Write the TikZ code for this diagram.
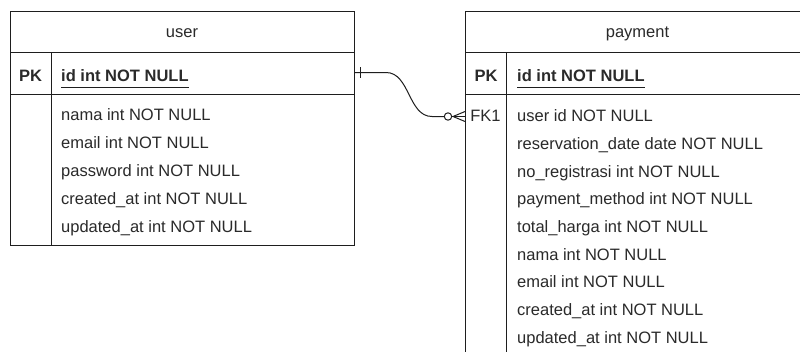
\documentclass[tikz,border=0pt]{standalone}
\usepackage{fontspec}
\setmainfont{Liberation Sans}
\definecolor{ln}{HTML}{1E1E1E}
\definecolor{tx}{HTML}{2A2A2A}
\begin{document}
\begin{tikzpicture}[x=1pt,y=-1pt,
  tbl/.style={draw=ln,line width=1pt},
  txt/.style={inner sep=0pt,anchor=base west,text=tx,font=\fontsize{16.5pt}{19pt}\selectfont},
  btxt/.style={txt,font=\fontsize{16.5pt}{19pt}\selectfont\bfseries},
  ctxt/.style={inner sep=0pt,anchor=base,text=tx,font=\fontsize{16.5pt}{19pt}\selectfont},
  bctxt/.style={ctxt,font=\fontsize{16.5pt}{19pt}\selectfont\bfseries},
  uline/.style={draw=ln,line width=0.8pt},
  rel/.style={draw=ln,line width=1pt}]
\useasboundingbox (0,0) rectangle (800,351);
\fill[white] (0,0) rectangle (800,351);
\begin{scope}
\clip (0,0) rectangle (800,351);
% user table
\draw[tbl] (10,11) rectangle (354,245);
\draw[tbl] (10,52.5) -- (354,52.5);
\draw[tbl] (10,94.5) -- (354,94.5);
\draw[tbl] (51,52.5) -- (51,245);
\node[ctxt] (uh) at (182,37.3) {user};
\node[bctxt] (upkl) at (30.5,81.7) {PK};
\node[btxt] (uid) at (61,81.7) {id int NOT NULL};
\draw[uline] ([yshift=-5.3pt]uid.base west) -- ([yshift=-5.3pt]uid.base east);
\node[txt] (u1) at (61,120.7) {nama int NOT NULL};
\node[txt] (u2) at (61,148.5) {email int NOT NULL};
\node[txt] (u3) at (61,176.4) {password int NOT NULL};
\node[txt] (u4) at (61,204.3) {created\_at int NOT NULL};
\node[txt] (u5) at (61,232.2) {updated\_at int NOT NULL};
% payment table
\draw[tbl] (465,11) rectangle (810,360);
\draw[tbl] (465,52.5) -- (810,52.5);
\draw[tbl] (465,94.5) -- (810,94.5);
\draw[tbl] (506.5,52.5) -- (506.5,360);
\node[ctxt] (ph) at (637.5,37.3) {payment};
\node[bctxt] (ppkl) at (486,81.7) {PK};
\node[btxt] (pid) at (517,81.7) {id int NOT NULL};
\draw[uline] ([yshift=-5.3pt]pid.base west) -- ([yshift=-5.3pt]pid.base east);
\node[ctxt] (fk) at (485.5,121.7) {FK1};
\node[txt] (p1) at (517,121.7) {user id NOT NULL};
\node[txt] (p2) at (517,149.4) {reservation\_date date NOT NULL};
\node[txt] (p3) at (517,177.1) {no\_registrasi int NOT NULL};
\node[txt] (p4) at (517,204.8) {payment\_method int NOT NULL};
\node[txt] (p5) at (517,232.5) {total\_harga int NOT NULL};
\node[txt] (p6) at (517,260.2) {nama int NOT NULL};
\node[txt] (p7) at (517,287.9) {email int NOT NULL};
\node[txt] (p8) at (517,315.6) {created\_at int NOT NULL};
\node[txt] (p9) at (517,343.3) {updated\_at int NOT NULL};
\end{scope}
% relation
\coordinate (upk) at (354,72.5);
\coordinate (pfk) at (465,116.5);
\coordinate (circ) at (448,116.5);
\draw[rel] (upk) -- ++(32,0) .. controls (410,72.5) and (408,116.5) .. (432,116.5) -- ([xshift=-3.7pt]circ);
\draw[rel] (circ) circle (3.7);
\draw[rel] ([xshift=3.7pt]circ) -- (pfk);
\draw[rel] (453,116.5) -- (465,111.5);
\draw[rel] (453,116.5) -- (465,121.5);
\draw[rel] (360,67) -- (360,78);
\end{tikzpicture}
\end{document}
